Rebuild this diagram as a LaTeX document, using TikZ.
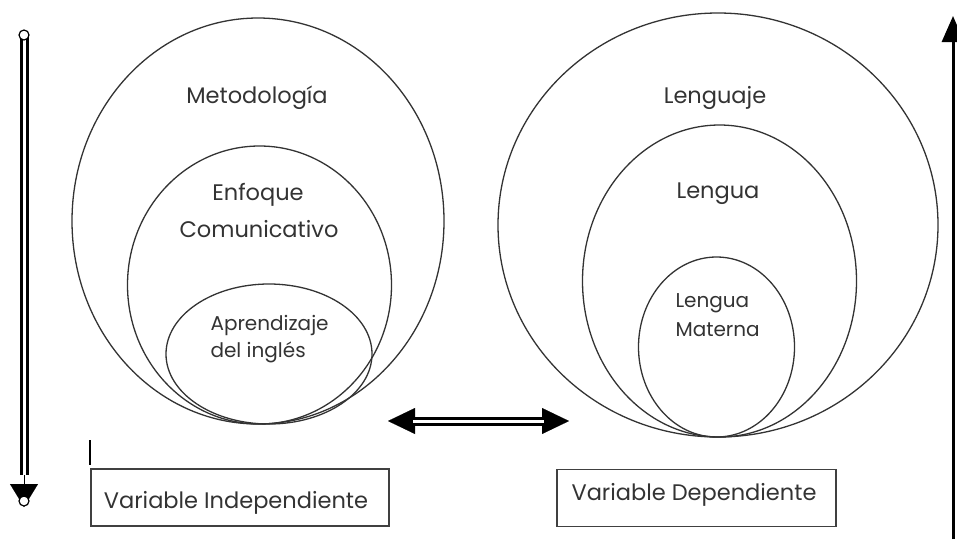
\documentclass[tikz,border=0pt]{standalone}
\usepackage{fontspec}
\setmainfont{Poppins}
\usetikzlibrary{arrows.meta}

\begin{document}
\begin{tikzpicture}[x=1pt,y=-1pt,
    circ/.style={draw=black!80,line width=1.3pt},
    txt/.style={text=black!80,anchor=base,font=\fontsize{22.5}{26}\selectfont},
    small/.style={txt,anchor=base west,font=\fontsize{20}{24}\selectfont},
    lbox/.style={draw=black!75,line width=1.5pt,minimum width=298pt,minimum height=57pt},
    dbl/.style={double,double distance=3pt,line width=3pt},
    tip/.style={-{Triangle[length=23pt,width=28pt]}}]
    \useasboundingbox (0,0) rectangle (957,539);
    % variable independiente
    \draw[circ] (258,221) ellipse [x radius=186, y radius=203];
    \draw[circ] (259.5,285) ellipse [x radius=132, y radius=139];
    \draw[circ] (269,354) ellipse [x radius=103, y radius=70];
    \node[txt] (meto) at (257,103) {Metodología};
    \node[txt] (enfo) at (258,200) {Enfoque};
    \node[txt] (comu) at (259,237) {Comunicativo};
    \node[small] (apre) at (207,330) {Aprendizaje};
    \node[small] (ingl) at (207,357) {del inglés};
    % variable dependiente
    \draw[circ] (718,225) ellipse [x radius=220, y radius=212];
    \draw[circ] (719.5,281) ellipse [x radius=137, y radius=156];
    \draw[circ] (716.5,347) ellipse [x radius=78, y radius=90];
    \node[txt] (lengj) at (715,103) {Lenguaje};
    \node[txt] (lengu) at (718,198) {Lengua};
    \node[small] (lengm) at (672,307) {Lengua};
    \node[small] (mate) at (672,336) {Materna};
    % cajas
    \node[lbox] (vi) at (240,497.5) {};
    \node[lbox,minimum width=279pt] (vd) at (696.5,498) {};
    \node[txt] (vitxt) at (236,508) {Variable Independiente};
    \node[txt] (vdtxt) at (694,500) {Variable Dependiente};
    \draw[line width=2.5pt] (90,440) -- (90,465);
    % flechas
    \coordinate (a) at (24,35);
    \coordinate (b) at (24,501);
    \draw[tip,line width=0.1pt] (a) -- ([yshift=-6pt]b);
    \draw[dbl] (a) -- (24,475);
    \draw[line width=1.2pt,fill=white] (a) circle (5pt) (b) circle (5pt);
    \coordinate (c) at (388,421);
    \coordinate (d) at (569,421);
    \draw[{Triangle[length=27pt,width=26pt]}-{Triangle[length=27pt,width=26pt]},line width=0.1pt] (c) -- (d);
    \draw[dbl] ([xshift=25pt]c) -- ([xshift=-25pt]d);
    \coordinate (e) at (953,539);
    \coordinate (f) at (953,16);
    \draw[line width=3pt,-{Triangle[length=26pt,width=22pt]}] (e) -- (f);
\end{tikzpicture}
\end{document}
